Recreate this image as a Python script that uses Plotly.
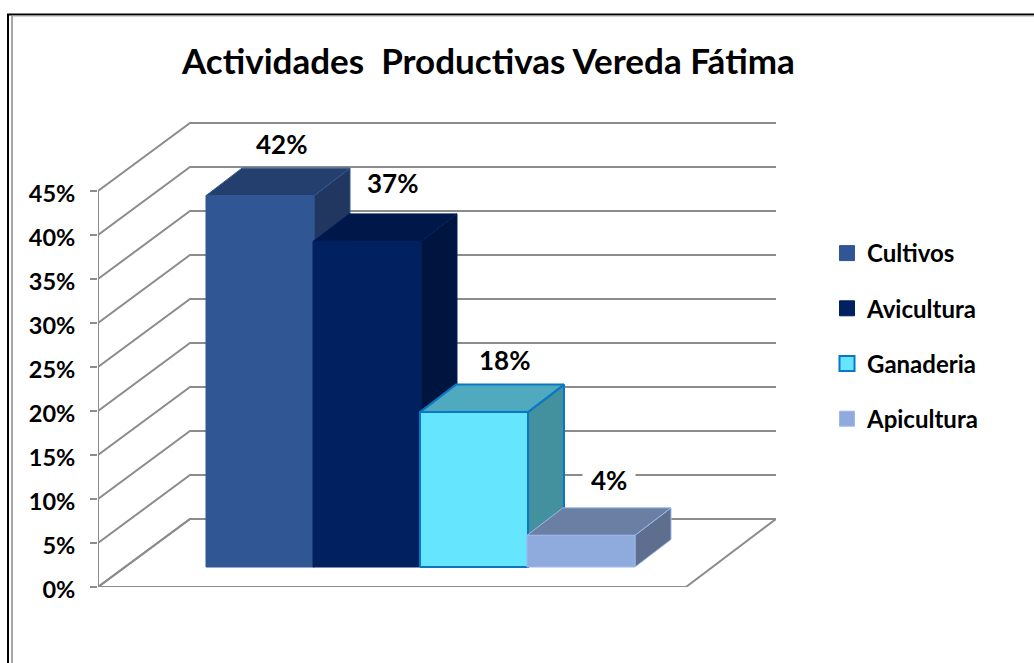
import plotly.graph_objects as go

categories = ["Cultivos", "Avicultura", "Ganaderia", "Apicultura"]
values = [42.2, 37.0, 17.6, 3.6]
y_ticks = [0, 5, 10, 15, 20, 25, 30, 35, 40, 45]
title_text = "Actividades\u00a0\u00a0Productivas Vereda Fátima"

front = ["#305694", "#002060", "#66E5FF", "#8FAADC"]
top = ["#243F6E", "#001849", "#4FAABF", "#6B7FA5"]
side = ["#22375F", "#001440", "#43909F", "#5D6E8F"]
edge = ["#305694", "#002060", "#0B76C4", "#9DB8E8"]
edge_w = [1, 1, 2, 1]
label_dx = [21, 25, 30, 28]
label_dy = [-52, -58, -52, -55]

W, H = 1034, 663
L, R, T, B = 98, 776, 122, 587
PX = 8.8  # pixels per percent
Y_MAX = (B - T) / PX
WALL_DX, WALL_DV = 92, 68 / PX
FLOOR_R = 686
BAR_X0, BAR_W, BAR_STEP = 206, 108, 107
BAR_BASE = 20 / PX
D_X, D_V = 36, 27.5 / PX
GRID = "#8C8C8C"
FONT = "Lato"


def px_x(x):
    return (x - L) / (R - L)


def px_y(y):
    return (B - y) / (B - T)


fig = go.Figure()


def poly(xs, ys, fill=None, line=GRID, width=2):
    fig.add_trace(go.Scatter(
        x=xs, y=ys, mode="lines", showlegend=False, hoverinfo="skip",
        fill="toself" if fill else None, fillcolor=fill,
        line=dict(color=line, width=width),
    ))


# floor and axis line
poly([L, FLOOR_R, R, L + WALL_DX, L],
     [0, 0, WALL_DV, WALL_DV, 0])
poly([L, L], [0, y_ticks[-1]])

# gridlines on the side and back walls
for t in y_ticks:
    poly([L, L + WALL_DX, R], [t, t + WALL_DV, t + WALL_DV])

# boxes
for i, v in enumerate(values):
    x0 = BAR_X0 + i * BAR_STEP
    x1 = x0 + BAR_W
    b, h = BAR_BASE, BAR_BASE + v
    poly([x1, x1 + D_X, x1 + D_X, x1, x1],
         [b, b + D_V, h + D_V, h, b], side[i], edge[i], edge_w[i])
    poly([x0, x1, x1 + D_X, x0 + D_X, x0],
         [h, h, h + D_V, h + D_V, h], top[i], edge[i], edge_w[i])
    poly([x0, x1, x1, x0, x0], [b, b, h, h, b], front[i], edge[i], edge_w[i])

# legend entries
for i, name in enumerate(categories):
    fig.add_trace(go.Scatter(
        x=[None], y=[None], mode="markers", name=name, legendgroup=name,
        marker=dict(symbol="square", size=15, color=front[i],
                    line=dict(color=edge[i], width=edge_w[i])),
    ))

annotations = []
for i, v in enumerate(values):
    cx = BAR_X0 + i * BAR_STEP + BAR_W / 2 + label_dx[i]
    cy = BAR_BASE + v - label_dy[i] / PX
    last = i == len(values) - 1
    annotations.append(dict(
        x=cx, y=cy, xref="x", yref="y", text=f"<b>{v:.0f}%</b>", showarrow=False,
        font=dict(family=FONT, size=26, color="black"),
        bgcolor="white" if last else None, borderpad=8 if last else 0,
        xanchor="center", yanchor="middle",
    ))
annotations.append(dict(
    x=px_x(488), y=px_y(60), xref="paper", yref="paper",
    text=f"<b>{title_text}</b>", showarrow=False,
    font=dict(family=FONT, size=35, color="black"),
    xanchor="center", yanchor="middle",
))

shapes = [
    dict(type="line", xref="paper", yref="paper", x0=px_x(x0), x1=px_x(x1),
         y0=px_y(y0), y1=px_y(y1), line=dict(color=c, width=w), layer="below")
    for x0, y0, x1, y1, c, w in [
        (8, 14.5, 8, 663, "black", 2),
        (7, 14.5, 1034, 14.5, "black", 2),
        (12, 16, 12, 663, "#A6A6A6", 2),
        (12, 16, 1034, 16, "#A6A6A6", 1),
    ]
]

fig.update_layout(
    width=W, height=H, autosize=False,
    margin=dict(l=L, r=W - R, t=T, b=H - B, pad=0),
    paper_bgcolor="white", plot_bgcolor="rgba(0,0,0,0)",
    font=dict(family=FONT, color="black"),
    hovermode=False,
    xaxis=dict(range=[L, R], visible=False, fixedrange=True),
    yaxis=dict(
        range=[0, Y_MAX], tickmode="array", tickvals=y_ticks,
        ticktext=[f"<b>{t}%</b>" for t in y_ticks],
        ticks="outside", ticklen=7, tickwidth=2, tickcolor=GRID,
        showgrid=False, zeroline=False, showline=False, ticklabelstandoff=10,
        ticklabelshift=3,
        tickfont=dict(family=FONT, size=23.5, color="black"), fixedrange=True,
    ),
    legend=dict(
        x=px_x(827), y=px_y(231), xanchor="left", yanchor="top",
        bgcolor="rgba(0,0,0,0)", tracegroupgap=21,
        font=dict(family=FONT, size=24, color="black", weight="bold"),
    ),
    annotations=annotations,
    shapes=shapes,
)

fig.write_html(
    "out.html",
    config={"displayModeBar": False},
    post_script="document.body.style.margin='0';document.body.style.overflow='hidden';",
)
